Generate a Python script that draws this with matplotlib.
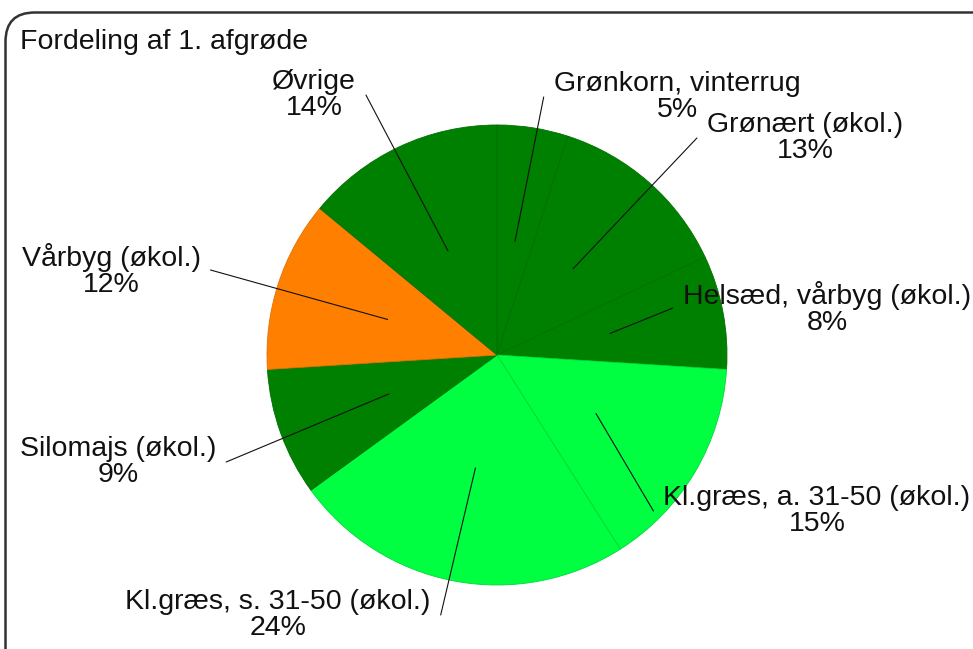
import numpy as np
import matplotlib
matplotlib.use('Agg')
import matplotlib.pyplot as plt
from matplotlib.patches import FancyBboxPatch
from matplotlib.text import Text

plt.rcParams['font.family'] = ['Liberation Sans', 'DejaVu Sans']

# data
labels = ['Grønkorn, vinterrug', 'Grønært (økol.)', 'Helsæd, vårbyg (økol.)',
          'Kl.græs, a. 31-50 (økol.)', 'Kl.græs, s. 31-50 (økol.)',
          'Silomajs (økol.)', 'Vårbyg (økol.)', 'Øvrige']
shares = [5, 13, 8, 15, 24, 9, 12, 14]
colors = ['#008000', '#008000', '#008000', '#00ff40', '#00ff40',
          '#008000', '#ff8000', '#008000']
edge_colors = ['#006f00', '#006f00', '#006f00', '#00d838', '#00d838',
               '#006f00', '#e07000', '#006f00']

# label layout (pixels in the 973x649 picture): text centre and side of the leader line
text_px = [(677, 97), (805, 138), (827, 308), (817, 511),
           (278, 615), (118, 462), (111, 270), (314, 95)]
line_side = ['left', 'left', 'left', 'left', 'right', 'right', 'right', 'right']

W, H = 973, 649
cx, cy, R = 497, 355, 230
FS = 20.5
GAP = 10  # px between text and leader line

fig = plt.figure(figsize=(W / 100, H / 100), dpi=100)
ax = fig.add_axes([0, 0, 1, 1])

wedges, _ = ax.pie(shares, colors=colors, startangle=90, counterclock=False,
                   radius=1, center=(0, 0),
                   wedgeprops=dict(linewidth=0.6))
for w, ec in zip(wedges, edge_colors):
    w.set_edgecolor(ec)

def px2data(px, py):
    return (px - cx) / R, (cy - py) / R

anns = []
for w, lab, s, (tx, ty), side in zip(wedges, labels, shares, text_px, line_side):
    mid = np.deg2rad((w.theta1 + w.theta2) / 2)
    xy = (0.5 * np.cos(mid), 0.5 * np.sin(mid))
    a = ax.annotate(lab + '\n' + str(s) + '%', xy=xy, xytext=px2data(tx, ty),
                    ha='center', va='center', fontsize=FS, color='#111111',
                    linespacing=1.0,
                    arrowprops=dict(arrowstyle='-', color='#111111', lw=0.8,
                                    relpos=(0, 0.5), shrinkA=0, shrinkB=0))
    anns.append((a, side))

ax.set_xlim(-cx / R, (W - cx) / R)
ax.set_ylim(-(H - cy) / R, cy / R)
ax.set_aspect('auto')
ax.axis('off')

# title and rounded frame
fig.text(20 / W, 1 - 42 / H, 'Fordeling af 1. afgrøde', fontsize=FS,
         ha='left', va='center', color='#111111')
frame = FancyBboxPatch((5.5 / W, -0.1), 1.2, 1 - 12.5 / H + 0.1,
                       boxstyle='round,pad=0,rounding_size=0.03',
                       transform=fig.transFigure, fill=False,
                       edgecolor='#333333', linewidth=1.8,
                       mutation_aspect=W / H)
fig.patches.append(frame)

# put the line end a fixed gap beside the text
fig.canvas.draw()
renderer = fig.canvas.get_renderer()
for a, side in anns:
    wpx = Text.get_window_extent(a, renderer).width
    f = GAP / wpx
    a._arrow_relpos = (-f, 0.5) if side == 'left' else (1 + f, 0.5)

fig.savefig('out.png', dpi=100)
